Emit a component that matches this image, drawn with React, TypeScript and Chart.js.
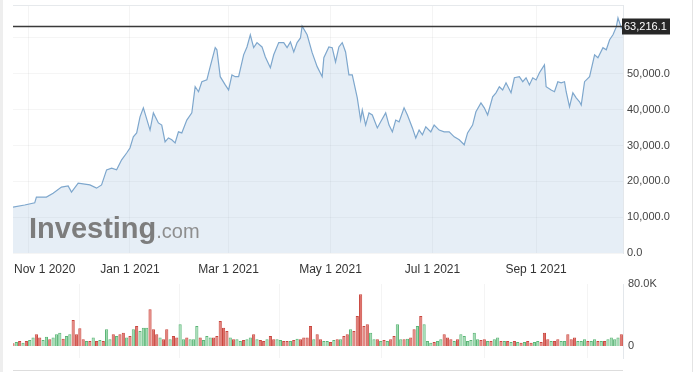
import React, { useEffect, useRef } from 'react';
import { Chart, registerables } from 'chart.js';

Chart.register(...registerables);

// ---- Data (days counted from Oct 23 2020) ----
const priceDays = [
  0, 7, 13, 14, 20, 24, 29, 33, 35, 39, 46, 50, 53, 56, 59, 62, 65, 68, 70, 72, 74, 76, 78, 82, 84, 87, 89, 91, 93, 95,
  97, 99, 101, 104, 107, 109, 111, 113, 116, 118, 121, 122, 124, 127, 129, 131, 133, 135, 138, 140, 142, 144, 146, 149,
  151, 154, 156, 159, 162, 164, 166, 168, 170, 172, 173, 176, 179, 182, 185, 186, 189, 191, 193, 195, 197, 199, 201,
  203, 206, 208, 209, 211, 213, 215, 218, 220, 223, 225, 227, 229, 231, 234, 236, 239, 241, 243, 245, 247, 250, 252,
  255, 258, 261, 264, 267, 270, 272, 275, 277, 280, 282, 284, 287, 289, 291, 293, 295, 298, 300, 303, 305, 307, 309,
  311, 313, 315, 318, 319, 322, 324, 326, 328, 330, 331, 333, 335, 337, 339, 340, 342, 345, 348, 350, 353, 355, 357,
  359, 361, 362, 364, 365,
];
const priceValues = [
  12800, 13400, 14000, 15600, 15600, 16700, 18400, 18700, 17000, 19500, 19000, 18100, 19000, 23200, 23700, 23200, 26000,
  27900, 29300, 32400, 33500, 38000, 40500, 34300, 39100, 36300, 35700, 31000, 32100, 31600,
  30700, 33800, 33500, 37100, 39100, 46400, 45000, 47800, 48300, 52000, 57300, 56700, 49200, 46900, 45500, 49700, 49200,
  49200, 55300, 57500, 60900, 57300, 58700, 57500,
  54700, 51700, 55300, 58700, 58700, 57300, 58900, 56100, 58700, 60000, 63300, 60900, 55900, 52000, 49200, 54500, 57500,
  57300, 53300, 57500, 58700, 56100, 49700,
  49700, 43300, 37100, 39900, 35700, 39100, 38500, 34900, 36600, 39100, 35700, 33800, 37100, 36600, 40500, 38500, 34900,
  32100, 34300, 33000, 35200, 33800, 35700,
  34300, 33800, 33800, 32400, 31600, 30200, 33500, 35700, 39400, 41900, 40500, 38500, 43600, 44700, 46400, 45500, 47500,
  44700, 48900, 49200, 47800, 48900, 46900,
  48900, 48300, 50300, 52500, 46400, 45500, 45000, 47800, 47500, 47800, 45000, 40800, 44700, 43300, 42200, 41300, 47800,
  49200, 55300, 54500, 57300, 56700, 59500,
  60900, 63100, 65600, 62800, 63216.1,
];
const lastPrice = 63216.1;

const tickDays = [9, 70, 129, 190, 251, 313];
const tickLabels = ['Nov 1 2020', 'Jan 1 2021', 'Mar 1 2021', 'May 1 2021', 'Jul 1 2021', 'Sep 1 2021'];
const priceTicks = [0, 10000, 20000, 30000, 40000, 50000, 60000];

// volume in thousands, one bar every 2 days
const volumeK = [
  3.4, 5.2, 6.5, 4.3, 6.5, 7.7, 10.8, 15.1, 10.8, 7.7,
  12.0, 8.6, 10.8, 15.1, 17.2, 9.5, 12.9, 15.1, 33.5, 15.1,
  22.8, 8.6, 6.5, 6.5, 10.8, 6.5, 7.7, 6.5, 21.5, 8.6,
  15.1, 12.9, 15.1, 17.2, 10.8, 12.9, 21.5, 25.8, 19.4, 23.7,
  23.7, 47.3, 21.5, 15.1, 10.8, 8.6, 21.5, 8.6, 12.9, 10.8,
  28.0, 8.6, 10.8, 8.6, 8.6, 25.8, 10.8, 7.7, 12.9, 10.8,
  10.8, 12.9, 32.3, 23.7, 19.4, 10.8, 8.6, 8.6, 6.5, 7.7,
  8.6, 10.8, 15.1, 8.6, 7.7, 6.5, 8.6, 12.9, 8.6, 8.6,
  7.7, 6.5, 6.5, 6.5, 7.7, 9.5, 8.6, 10.8, 10.8, 25.8,
  8.6, 15.1, 8.6, 6.5, 6.5, 5.2, 7.7, 8.6, 8.6, 12.9,
  15.1, 21.5, 19.4, 38.7, 66.7, 25.8, 28.0, 17.2, 8.6, 8.6,
  6.5, 7.7, 6.5, 8.6, 12.9, 28.0, 8.6, 8.6, 9.5, 10.8,
  21.5, 25.8, 38.7, 28.0, 6.5, 4.3, 5.2, 6.5, 8.6, 15.1,
  10.8, 8.6, 6.5, 8.6, 15.1, 12.9, 6.5, 7.7, 17.2, 8.6,
  7.7, 8.6, 6.5, 6.5, 8.6, 10.8, 6.5, 6.5, 6.5, 5.2,
  6.5, 5.2, 4.3, 5.2, 6.5, 4.3, 5.2, 6.5, 5.2, 17.2,
  8.6, 6.5, 6.5, 8.6, 6.5, 6.5, 15.1, 8.6, 10.8, 6.5,
  6.5, 8.6, 6.5, 6.5, 8.6, 6.5, 6.5, 6.5, 8.6, 10.8,
  8.6, 10.8, 15.1,
];
const volumeUp = [
  0, 1, 0, 1, 0, 1, 1, 0, 0, 1,
  1, 0, 1, 1, 1, 0, 1, 1, 0, 0,
  0, 0, 1, 0, 1, 0, 1, 0, 1, 1,
  0, 1, 0, 0, 1, 0, 1, 0, 1, 1,
  1, 0, 0, 0, 1, 0, 0, 1, 0, 0,
  1, 1, 0, 1, 1, 1, 0, 1, 1, 1,
  0, 0, 0, 0, 0, 1, 0, 1, 1, 0,
  1, 1, 0, 1, 0, 0, 1, 0, 0, 1,
  1, 0, 0, 1, 0, 1, 0, 0, 0, 0,
  1, 0, 0, 1, 1, 0, 1, 0, 1, 0,
  0, 1, 0, 0, 0, 0, 0, 1, 1, 0,
  1, 0, 1, 0, 0, 1, 1, 0, 1, 0,
  0, 1, 0, 1, 1, 1, 0, 1, 1, 0,
  0, 0, 1, 0, 1, 1, 1, 1, 1, 1,
  0, 0, 1, 0, 1, 1, 0, 1, 0, 1,
  0, 1, 0, 1, 0, 0, 1, 1, 0, 0,
  0, 1, 0, 0, 1, 1, 0, 0, 0, 1,
  1, 1, 0, 1, 1, 0, 1, 0, 1, 1,
  1, 1, 0,
];
const volumeTicks = [0, 80];
const volumeStepDays = 2;

const DAY_MIN = 0;
const DAY_MAX = 365;
const FONT = "'Liberation Sans', Arial, sans-serif";

const fmtPrice = (v: number) =>
  v.toLocaleString('en-US', { minimumFractionDigits: 1, maximumFractionDigits: 1 });

const priceOverlay = {
  id: 'priceOverlay',
  afterDatasetsDraw(chart: any) {
    const { ctx } = chart;
    ctx.save();
    ctx.textBaseline = 'alphabetic';
    ctx.textAlign = 'left';
    ctx.fillStyle = '#7d7d7d';
    ctx.font = `bold 29px ${FONT}`;
    ctx.fillText('Investing', 29, 238);
    const w = ctx.measureText('Investing').width;
    ctx.fillStyle = '#8e8e8e';
    ctx.font = `20px ${FONT}`;
    ctx.fillText('.com', 29 + w, 238);
    ctx.restore();
  },
  afterDraw(chart: any) {
    const { ctx, chartArea, scales } = chart;
    const xs = scales.x;
    const ys = scales.y;
    ctx.save();
    ctx.strokeStyle = '#e6e9ec';
    ctx.lineWidth = 1;
    ctx.beginPath();
    ctx.moveTo(chartArea.left, chartArea.top + 0.5);
    ctx.lineTo(chartArea.right, chartArea.top + 0.5);
    ctx.stroke();
    ctx.font = `12px ${FONT}`;
    ctx.fillStyle = '#333';
    ctx.textBaseline = 'middle';
    ctx.textAlign = 'left';
    tickDays.forEach((d, i) => {
      const cx = xs.getPixelForValue(d);
      const tw = ctx.measureText(tickLabels[i]).width;
      const left = Math.max(cx - tw / 2, chartArea.left + 1);
      ctx.fillText(tickLabels[i], left, 270);
    });
    const py = Math.round(ys.getPixelForValue(lastPrice)) + 0.5;
    ctx.strokeStyle = '#3a3a3a';
    ctx.lineWidth = 1.5;
    ctx.beginPath();
    ctx.moveTo(chartArea.left, py);
    ctx.lineTo(chartArea.right, py);
    ctx.stroke();
    ctx.fillStyle = '#262626';
    ctx.fillRect(chartArea.right - 1, py - 8, 48, 16);
    ctx.fillStyle = '#ffffff';
    ctx.font = `11px ${FONT}`;
    ctx.fillText(fmtPrice(lastPrice), chartArea.right + 1, py + 0.5);
    ctx.restore();
  },
};

export default function App() {
  const priceRef = useRef<HTMLCanvasElement | null>(null);
  const volRef = useRef<HTMLCanvasElement | null>(null);

  useEffect(() => {
    const pctx = priceRef.current!.getContext('2d')!;
    const vctx = volRef.current!.getContext('2d')!;

    const priceChart = new Chart(pctx, {
      type: 'line',
      data: {
        datasets: [
          {
            data: priceDays.map((d, i) => ({ x: d, y: priceValues[i] })),
            borderColor: '#7ea7cd',
            borderWidth: 1.2,
            backgroundColor: 'rgba(130,170,210,0.2)',
            fill: 'start',
            pointRadius: 0,
            tension: 0,
          },
        ],
      },
      options: {
        animation: false,
        responsive: false,
        maintainAspectRatio: false,
        events: [],
        layout: { padding: { left: 13, top: 5, right: 0, bottom: 0 } },
        plugins: { legend: { display: false }, tooltip: { enabled: false } },
        scales: {
          x: {
            type: 'linear',
            min: DAY_MIN,
            max: DAY_MAX,
            afterBuildTicks: (s: any) => {
              s.ticks = tickDays.map((v) => ({ value: v }));
            },
            ticks: { display: false },
            grid: { color: 'rgba(0,0,0,0.045)', drawTicks: false },
            border: { display: false },
            afterFit: (s: any) => {
              s.height = 27;
              s.paddingLeft = 0;
              s.paddingRight = 0;
            },
          },
          y: {
            position: 'right',
            min: 0,
            max: 69200,
            afterBuildTicks: (s: any) => {
              s.ticks = priceTicks.map((v) => ({ value: v }));
            },
            ticks: {
              padding: 4,
              color: '#444',
              font: { family: FONT, size: 11 },
              callback: (v: any) => (v === 60000 ? '' : fmtPrice(Number(v))),
            },
            grid: { color: 'rgba(0,0,0,0.04)', drawTicks: false },
            border: { display: true, color: '#e3e7eb' },
            afterFit: (s: any) => {
              s.width = 77;
              s.paddingTop = 0;
              s.paddingBottom = 0;
            },
          },
        },
      },
      plugins: [priceOverlay],
    } as any);

    const volChart = new Chart(vctx, {
      type: 'bar',
      data: {
        datasets: [
          {
            data: volumeK.map((v, i) => ({ x: i * volumeStepDays, y: v })),
            backgroundColor: volumeUp.map((u) => (u ? 'rgba(150,215,170,0.95)' : '#df7069')),
            borderColor: volumeUp.map((u) => (u ? '#5bb576' : '#c9473f')),
            borderWidth: 1,
            barPercentage: 0.95,
            categoryPercentage: 1,
          },
        ],
      },
      options: {
        animation: false,
        responsive: false,
        maintainAspectRatio: false,
        events: [],
        layout: { padding: { left: 13, top: 8, right: 0, bottom: 14 } },
        plugins: { legend: { display: false }, tooltip: { enabled: false } },
        scales: {
          x: {
            type: 'linear',
            min: DAY_MIN,
            max: DAY_MAX,
            offset: false,
            afterBuildTicks: (s: any) => {
              s.ticks = tickDays.map((v) => ({ value: v }));
            },
            ticks: { display: false },
            grid: { color: 'rgba(0,0,0,0.045)', drawTicks: false },
            border: { display: false },
            afterFit: (s: any) => {
              s.height = 0;
              s.paddingLeft = 0;
              s.paddingRight = 0;
            },
          },
          y: {
            position: 'right',
            min: -15.5,
            max: 80,
            afterBuildTicks: (s: any) => {
              s.ticks = volumeTicks.map((v) => ({ value: v }));
            },
            ticks: {
              padding: 5,
              color: '#444',
              font: { family: FONT, size: 11 },
              callback: (v: any) => (Number(v) === 0 ? '0' : `${Number(v).toFixed(1)}K`),
            },
            grid: { display: false, drawTicks: false },
            border: { display: true, color: '#e3e7eb' },
            afterFit: (s: any) => {
              s.width = 77;
              s.paddingTop = 0;
              s.paddingBottom = 0;
            },
          },
        },
      },
    } as any);

    return () => {
      priceChart.destroy();
      volChart.destroy();
    };
  }, []);

  return (
    <div
      style={{
        position: 'absolute',
        left: 0,
        top: 0,
        width: 700,
        height: 372,
        background: '#ffffff',
        overflow: 'hidden',
      }}
    >
      <div style={{ position: 'absolute', left: 0, top: 0, width: 3, height: 372, background: '#eeeeee' }} />
      <div style={{ position: 'absolute', left: 692, top: 0, width: 1, height: 372, background: '#e4e4e4' }} />
      <canvas
        ref={priceRef}
        width={700}
        height={280}
        style={{ position: 'absolute', left: 0, top: 0, width: 700, height: 280 }}
      />
      <canvas
        ref={volRef}
        width={700}
        height={96}
        style={{ position: 'absolute', left: 0, top: 276, width: 700, height: 96 }}
      />
      <div style={{ position: 'absolute', left: 13, top: 370, width: 610, height: 1, background: '#dddddd' }} />
    </div>
  );
}
